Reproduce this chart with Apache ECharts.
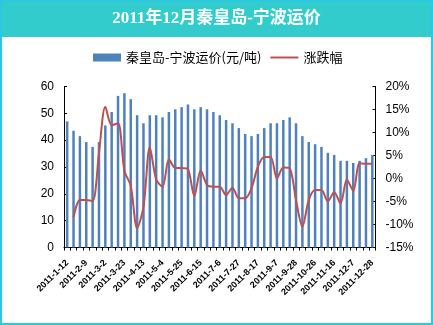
<!DOCTYPE html>
<html><head><meta charset="utf-8">
<script src="https://cdn.jsdelivr.net/npm/echarts@6/dist/echarts.min.js"></script>
<style>html,body{margin:0;padding:0;background:#fff}#c{width:433px;height:325px}</style>
</head><body><div id="c"></div>
<script>
var dates = ['2011-1-12','2011-1-19','2011-1-26','2011-2-9','2011-2-16','2011-2-23','2011-3-2','2011-3-9','2011-3-16','2011-3-23','2011-3-30','2011-4-6','2011-4-13','2011-4-20','2011-4-27','2011-5-4','2011-5-11','2011-5-18','2011-5-25','2011-6-1','2011-6-8','2011-6-15','2011-6-22','2011-6-29','2011-7-6','2011-7-13','2011-7-20','2011-7-27','2011-8-3','2011-8-10','2011-8-17','2011-8-24','2011-8-31','2011-9-7','2011-9-14','2011-9-21','2011-9-28','2011-10-12','2011-10-19','2011-10-26','2011-11-2','2011-11-9','2011-11-16','2011-11-23','2011-11-30','2011-12-7','2011-12-14','2011-12-21','2011-12-28'];
var price = [47,43.5,41.5,39.3,37.5,39.3,45.5,50.5,56.5,57.5,55.3,49.3,46.3,49.3,49.3,48.5,50.5,51.5,52.3,53.3,51.5,52.3,51.5,50.5,49.3,47.5,46.3,44.5,42.3,41.5,42.3,44.5,46.3,46.3,47.5,48.5,46.3,41.5,39.3,38.5,37.5,35.3,34.5,32.3,32.3,31.5,32.3,33.3,34.5];
var change = [null,-8.4,-4.7,-4.7,-4.9,5.5,15.6,11.6,12.0,1.7,-1.6,-10.8,-6.2,6.8,-0.2,-1.8,4.2,2.3,2.3,2.0,-3.8,1.8,-1.4,-1.8,-1.8,-3.6,-2.0,-4.3,-4.3,-2.1,2.6,4.7,4.7,0.0,2.4,2.2,-4.7,-10.5,-4.7,-2.5,-2.5,-5.0,-3.0,-5.4,-0.2,-2.7,3.3,3.2,3.2];
var titleText = '2011年12月秦皇岛-宁波运价';
var seriesNames = ['秦皇岛-宁波运价(元/吨)','涨跌幅'];

var chart = echarts.init(document.getElementById('c'), null, {renderer:'canvas'});
var axisFont = {fontFamily:'Liberation Sans, Arial, sans-serif', fontSize:12, color:'#000'};
chart.setOption({
  animation:false,
  backgroundColor:'#fff',
  graphic:[
    {type:'rect', shape:{x:0,y:0,width:433,height:37}, style:{fill:'#33CCCC'}, z:0},
    {type:'rect', shape:{x:1,y:1,width:431,height:323}, style:{fill:'none', stroke:'#2CC8E0', lineWidth:2}, z:0},
    {type:'text', left:'center', top:10, style:{text:titleText, fill:'#fff', font:'bold 17px "Liberation Serif", "Noto Sans CJK SC", serif'}, z:10}
  ],
  legend:{
    left:88, top:46, itemWidth:28, itemHeight:8, itemGap:9,
    textStyle:{fontSize:13, color:'#000', fontFamily:'"Noto Sans CJK SC", sans-serif'},
    data:[{name:seriesNames[0], icon:'rect'},
          {name:seriesNames[1], icon:'path://M0,0L28,0L28,2L0,2Z', itemStyle:{color:'#C0504D'}}]
  },
  grid:{left:64, right:57.5, top:86.5, bottom:77.5, containLabel:false},
  xAxis:{
    type:'category', data:dates, boundaryGap:true,
    axisLine:{lineStyle:{color:'#000', width:1}},
    axisTick:{show:true, interval:0, length:3, lineStyle:{color:'#000'}},
    axisLabel:{interval:2, rotate:45, margin:14, fontSize:9, fontWeight:'bold', color:'#000', fontFamily:'Liberation Sans, Arial, sans-serif'},
    splitLine:{show:false}
  },
  yAxis:[
    {type:'value', min:0, max:60, interval:10, position:'left',
     axisLine:{show:true, lineStyle:{color:'#000'}},
     axisTick:{show:true, inside:true, length:3, lineStyle:{color:'#000'}},
     axisLabel:Object.assign({margin:10}, axisFont),
     splitLine:{show:false}},
    {type:'value', min:-15, max:20, interval:5, position:'right',
     axisLine:{show:true, lineStyle:{color:'#000'}},
     axisTick:{show:true, inside:true, length:3, lineStyle:{color:'#000'}},
     axisLabel:Object.assign({margin:10, formatter:'{value}%'}, axisFont),
     splitLine:{show:false}}
  ],
  series:[
    {name:seriesNames[0], type:'bar', data:price, yAxisIndex:0, barWidth:2.5, itemStyle:{color:'#4F81BD'}},
    {name:seriesNames[1], type:'line', data:change, yAxisIndex:1, symbol:'none', smooth:0.3, connectNulls:false,
     lineStyle:{color:'#C0504D', width:2}, itemStyle:{color:'#C0504D'}, z:5}
  ]
});
</script></body></html>
